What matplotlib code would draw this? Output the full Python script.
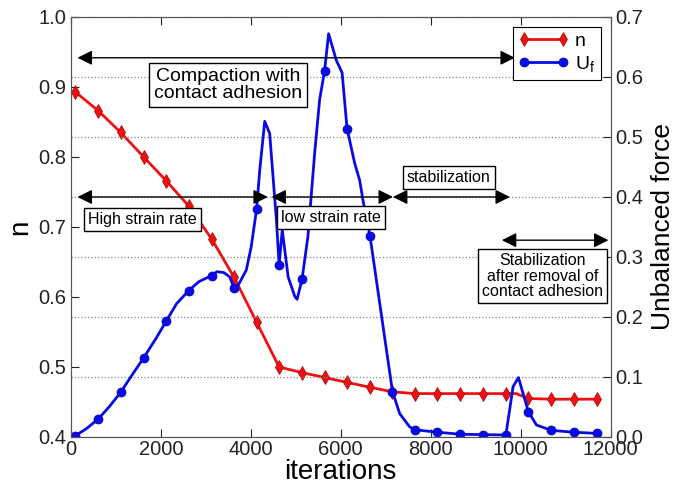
import matplotlib
matplotlib.use("Agg")
import matplotlib.pyplot as plt
import numpy as np

plt.rcParams['font.family'] = ['Liberation Sans Narrow', 'Liberation Sans', 'DejaVu Sans']
plt.rcParams['mathtext.default'] = 'regular'

# ---- data ----
n_iter = [100, 610, 1110, 1620, 2120, 2620, 3130, 3630, 4130, 4630, 5140, 5640,
          6140, 6650, 7150, 7650, 8150, 8660, 9160, 9670, 9900, 10170, 10680, 11180, 11690]
n_vals = [0.893, 0.866, 0.835, 0.800, 0.766, 0.730, 0.683, 0.628, 0.564, 0.500, 0.492, 0.485,
          0.478, 0.471, 0.4645, 0.462, 0.462, 0.462, 0.462, 0.462, 0.462, 0.455, 0.454, 0.454, 0.454]

u_iter = [100, 350, 610, 850, 1110, 1350, 1620, 1900, 2120, 2350, 2620, 2850, 3130, 3250, 3400,
          3530, 3630, 3720, 3900, 4010, 4130, 4200, 4310, 4420, 4530, 4570, 4630, 4700, 4830,
          4980, 5030, 5140, 5270, 5420, 5530, 5640, 5730, 5900, 6030, 6140, 6310, 6420, 6500,
          6650, 7150, 7310, 7530, 7650, 8150, 8660, 9160, 9670, 9830, 9950, 10170, 10350,
          10680, 11180, 11690]
u_vals = [0.002, 0.014, 0.030, 0.050, 0.0745, 0.102, 0.132, 0.165, 0.193, 0.222, 0.244, 0.259,
          0.269, 0.2755, 0.274, 0.267, 0.248, 0.253, 0.278, 0.317, 0.380, 0.445, 0.526, 0.506,
          0.400, 0.362, 0.287, 0.345, 0.267, 0.234, 0.2295, 0.263, 0.334, 0.473, 0.562, 0.610,
          0.672, 0.628, 0.607, 0.514, 0.456, 0.428, 0.392, 0.335, 0.0755, 0.039, 0.017, 0.012,
          0.008, 0.0045, 0.004, 0.0033, 0.084, 0.099, 0.042, 0.020, 0.011, 0.008, 0.006]

marker_iters = [100, 610, 1110, 1620, 2120, 2620, 3130, 3630, 4130, 4630, 5140, 5640,
                6140, 6650, 7150, 7650, 8150, 8660, 9160, 9670, 10170, 10680, 11180, 11690]

xticks = [0, 2000, 4000, 6000, 8000, 10000, 12000]
nticks = [0.4, 0.5, 0.6, 0.7, 0.8, 0.9, 1.0]
uticks = [0.0, 0.1, 0.2, 0.3, 0.4, 0.5, 0.6, 0.7]

# ---- figure ----
fig = plt.figure(figsize=(6.94, 4.93), dpi=100)
ax = fig.add_axes([0.102, 0.1136, 0.778, 0.852])
ax2 = ax.twinx()

n_marks = [i for i, v in enumerate(n_iter) if v in marker_iters]
u_marks = [i for i, v in enumerate(u_iter) if v in marker_iters]

l1, = ax.plot(n_iter, n_vals, color='#ee1111', lw=2, marker='d', markersize=7,
              markeredgecolor='#aa0000', markeredgewidth=0.5, markevery=n_marks, label='n')
l2, = ax2.plot(u_iter, u_vals, color='#0a0ae6', lw=2, marker='o', markersize=6.5,
               markeredgecolor='#0000aa', markeredgewidth=0.5, markevery=u_marks, label='U$_f$')

ax.set_xlim(0, 12000)
ax.set_ylim(0.4, 1.0)
ax2.set_ylim(0.0, 0.7)
ax.set_xticks(xticks)
ax.set_yticks(nticks)
ax2.set_yticks(uticks)
ax.set_yticklabels([f"{v:.1f}" for v in nticks])
ax2.set_yticklabels([f"{v:.1f}" for v in uticks])

ax2.yaxis.grid(True, linestyle=':', color='#888888', lw=0.9)
for a in (ax, ax2):
    a.tick_params(direction='in', labelsize=14.5, length=6, width=0.8, colors='#222222')
    for s in a.spines.values():
        s.set_color('#555555')
ax.tick_params(axis='x', top=True, pad=2)
ax.tick_params(axis='y', pad=3)
ax2.tick_params(axis='y', pad=3)

ax.set_xlabel('iterations', fontsize=20, labelpad=0)
ax.set_ylabel('n', fontsize=20, labelpad=4)
ax2.set_ylabel('Unbalanced force', fontsize=19, labelpad=6)

ax2.set_zorder(ax.get_zorder() + 1)
ax2.patch.set_visible(False)

# ---- annotations (drawn on ax2 coordinates) ----
def darrow(x0, x1, y):
    ax2.annotate('', xy=(x1, y), xytext=(x0, y),
                 arrowprops=dict(arrowstyle='<|-|>', color='black', lw=1,
                                 mutation_scale=22, shrinkA=0, shrinkB=0), zorder=5)

darrow(150, 9870, 0.632)
darrow(150, 4380, 0.40)
darrow(4460, 7160, 0.40)
darrow(7160, 9760, 0.40)
darrow(9580, 11950, 0.328)

bbox = dict(boxstyle='square,pad=0.25', fc='white', ec='black', lw=1)
ax2.text(3490, 0.587, 'Compaction with\ncontact adhesion', fontsize=14, ha='center',
         va='center', bbox=bbox, zorder=6, linespacing=1.0)
ax2.text(1600, 0.363, 'High strain rate', fontsize=11.5, ha='center', va='center',
         bbox=bbox, zorder=6)
ax2.text(5780, 0.365, 'low strain rate', fontsize=11.5, ha='center', va='center',
         bbox=bbox, zorder=6)
ax2.text(8400, 0.433, 'stabilization', fontsize=11.5, ha='center', va='center',
         bbox=bbox, zorder=6)
ax2.text(10490, 0.268, 'Stabilization\nafter removal of\ncontact adhesion', fontsize=11.5,
         ha='center', va='center', bbox=bbox, zorder=6, linespacing=1.05)

leg = ax2.legend([l1, l2], ['n', 'U$_f$'], loc='upper right', numpoints=2, fontsize=14,
                 fancybox=False, framealpha=1, edgecolor='black', borderaxespad=0.5,
                 handlelength=2.6, handletextpad=0.3, borderpad=0.3, labelspacing=0.2)
leg.get_frame().set_linewidth(0.8)
leg.set_zorder(10)

fig.savefig('out.png', dpi=100)
